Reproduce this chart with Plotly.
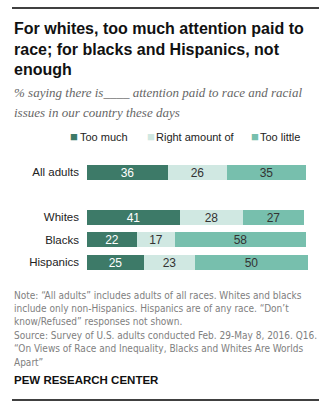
import plotly.graph_objects as go

groups = ["All adults", "Whites", "Blacks", "Hispanics"]
group_rows = [0, 2, 3, 4]  # blank row between "All adults" and the race groups
series = ["Too much", "Right amount of", "Too little"]
too_much = [36, 41, 22, 25]
right_amount = [26, 28, 17, 23]
too_little = [35, 27, 58, 50]
values = [too_much, right_amount, too_little]
colors = ["#3d7a68", "#d0e8e2", "#77bfad"]
text_colors = ["#ffffff", "#333333", "#333333"]

title_lines = ["For whites, too much attention paid to",
               "race; for blacks and Hispanics, not",
               "enough"]
subtitle_lines = ["% saying there is____ attention paid to race and racial",
                  "issues in our country these days"]
note_lines = ["Note: “All adults” includes adults of all races. Whites and blacks",
              "include only non-Hispanics. Hispanics are of any race. “Don’t",
              "know/Refused” responses not shown.",
              "Source: Survey of U.S. adults conducted Feb. 29-May 8, 2016. Q16.",
              "“On Views of Race and Inequality, Blacks and Whites Are Worlds",
              "Apart”"]

W, H = 328, 408
COND = "DejaVu Sans Condensed, Liberation Sans, sans-serif"
SANS = "Liberation Sans, Arial, sans-serif"

fig = go.Figure()
for name, vals, col, tcol in zip(series, values, colors, text_colors):
    fig.add_trace(go.Bar(
        y=group_rows, x=vals, name=name, orientation="h",
        marker=dict(color=col, line=dict(width=0)),
        width=0.667,
        text=vals, texttemplate="%{x}", textposition="inside",
        insidetextanchor="middle", textangle=0, constraintext="none",
        textfont=dict(color=tcol, size=12, family=SANS),
        showlegend=False, hoverinfo="skip",
    ))

def px_x(p):
    return p / W

def px_y(p):
    return 1 - p / H

fig.update_layout(
    width=W, height=H,
    margin=dict(l=0, r=0, t=0, b=0),
    paper_bgcolor="white", plot_bgcolor="white",
    barmode="stack", bargap=0,
    xaxis=dict(domain=[px_x(87), px_x(313)], range=[0, 100], visible=False, fixedrange=True),
    yaxis=dict(domain=[px_y(280), px_y(150)], range=[4.8, -0.978],
               tickvals=group_rows, ticktext=groups, showgrid=False, zeroline=False,
               showline=False, ticks="", ticklabelstandoff=7,
               tickfont=dict(size=11.5, color="#222222", family=SANS)),
    font=dict(family=SANS),
)

ann = []
for i, line in enumerate(title_lines):
    ann.append(dict(text=f"<b>{line}</b>", x=px_x(12), y=px_y(29 + 20 * i),
                    xanchor="left", yanchor="middle",
                    font=dict(size=16, color="#111111", family=SANS)))
for i, line in enumerate(subtitle_lines):
    ann.append(dict(text=f"<i>{line}</i>", x=px_x(12), y=px_y(93 + 19 * i),
                    xanchor="left", yanchor="middle",
                    font=dict(size=13, color="#666666", family="Liberation Serif, serif")))
leg_sq = [68, 145, 249]
leg_tx = [78, 154, 258]
for name, col, sx, tx in zip(series, colors, leg_sq, leg_tx):
    ann.append(dict(text="■", x=px_x(sx), y=px_y(137), xanchor="left", yanchor="middle",
                    font=dict(size=13, color=col, family=SANS)))
    ann.append(dict(text=name, x=px_x(tx), y=px_y(137), xanchor="left", yanchor="middle",
                    font=dict(size=11, color="#222222", family=SANS)))
for i, line in enumerate(note_lines):
    ann.append(dict(text=line, x=px_x(12), y=px_y(295 + 13.4 * i),
                    xanchor="left", yanchor="middle",
                    font=dict(size=10, color="#808080", family=COND)))
ann.append(dict(text="<b>PEW RESEARCH CENTER</b>",
                x=px_x(12), y=px_y(380), xanchor="left", yanchor="middle",
                font=dict(size=11.5, color="#111111", family=SANS)))
for a in ann:
    a.update(xref="paper", yref="paper", showarrow=False, align="left")
fig.update_layout(annotations=ann)

fig.add_shape(type="line", xref="paper", yref="paper",
              x0=px_x(12), x1=px_x(319), y0=px_y(8), y1=px_y(8),
              line=dict(color="#000000", width=1.5))
fig.add_shape(type="line", xref="paper", yref="paper",
              x0=px_x(12), x1=px_x(319), y0=px_y(400), y1=px_y(400),
              line=dict(color="#000000", width=1.5))

fig.write_html("out.html")
